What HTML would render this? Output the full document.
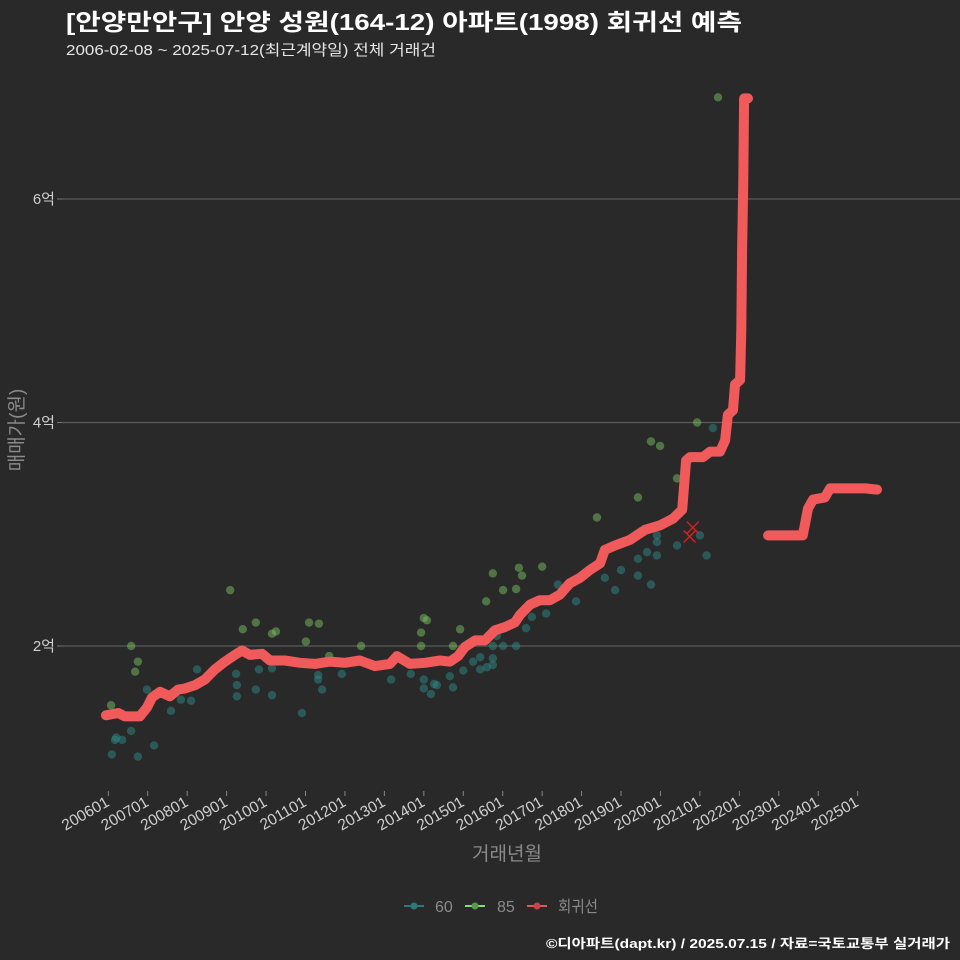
<!DOCTYPE html>
<html><head><meta charset="utf-8"><style>
html,body{margin:0;padding:0;background:#2a292a;}
svg{display:block;font-family:"Liberation Sans","Noto Sans CJK KR",sans-serif;}
</style></head><body>
<svg id="chart" width="960" height="960" viewBox="0 0 960 960">
<rect width="960" height="960" fill="#2a292a"/>
<text x="66" y="30" fill="#ffffff" font-size="23" font-weight="bold" textLength="676" lengthAdjust="spacingAndGlyphs">[안양만안구] 안양 성원(164-12) 아파트(1998) 회귀선 예측</text>
<text x="66" y="55" fill="#e6e6e6" font-size="15" textLength="370" lengthAdjust="spacingAndGlyphs">2006-02-08 ~ 2025-07-12(최근계약일) 전체 거래건</text>
<g id="grid"></g>
<g id="xaxis"></g>
<g id="pts"></g>
<g id="reg"></g>
<text x="507" y="860" fill="#8a8a8a" font-size="19" text-anchor="middle">거래년월</text>
<text transform="translate(23,430) rotate(-90)" fill="#8a8a8a" font-size="19" text-anchor="middle">매매가(원)</text>
<g>
 <g><line x1="404" y1="906" x2="424" y2="906" stroke="#2a7a78" stroke-width="2"/><circle cx="414" cy="906" r="3.5" fill="#2a7a78"/><text x="435" y="912" fill="#8a8a8a" font-size="16">60</text></g>
 <g><line x1="465" y1="906" x2="485" y2="906" stroke="#7fe06a" stroke-width="2"/><circle cx="475" cy="906" r="3.5" fill="#5a9a4a"/><text x="497" y="912" fill="#8a8a8a" font-size="16">85</text></g>
 <g><line x1="527" y1="906" x2="547" y2="906" stroke="#e05858" stroke-width="2"/><circle cx="537" cy="906" r="3.5" fill="#c04848"/><text x="558" y="912" fill="#8a8a8a" font-size="16" textLength="40" lengthAdjust="spacingAndGlyphs">회귀선</text></g>
</g>
<text x="950" y="948" fill="#ffffff" font-size="13" font-weight="bold" text-anchor="end" textLength="404" lengthAdjust="spacingAndGlyphs">©디아파트(dapt.kr) / 2025.07.15 / 자료=국토교통부 실거래가</text>
</svg>
<script>
const yTicks=[2,4,6];
const yTickLabels=["2억","4억","6억"];
const xTickYears=[2006,2007,2008,2009,2010,2011,2012,2013,2014,2015,2016,2017,2018,2019,2020,2021,2022,2023,2024,2025];
const xTickLabels=["200601","200701","200801","200901","201001","201101","201201","201301","201401","201501","201601","201701","201801","201901","202001","202101","202201","202301","202401","202501"];
const regT1=[2005.94,2006.25,2006.42,2006.8,2006.98,2007.11,2007.31,2007.56,2007.77,2007.94,2008.2,2008.45,2008.7,2008.96,2009.21,2009.39,2009.59,2009.9,2010.1,2010.48,2010.86,2011.24,2011.62,2012.0,2012.38,2012.76,2013.14,2013.32,2013.65,2014.03,2014.41,2014.66,2014.87,2015.04,2015.3,2015.55,2015.8,2016.06,2016.31,2016.44,2016.69,2016.94,2017.2,2017.45,2017.7,2017.96,2018.21,2018.47,2018.59,2018.85,2019.23,2019.61,2019.99,2020.32,2020.55,2020.65,2020.75,2021.08,2021.26,2021.51,2021.64,2021.71,2021.84,2021.89,2022.02,2022.05,2022.07,2022.1,2022.12,2022.22];
const regV1=[1.38,1.40,1.37,1.37,1.45,1.54,1.59,1.55,1.61,1.62,1.65,1.70,1.79,1.86,1.92,1.96,1.92,1.93,1.87,1.87,1.85,1.84,1.86,1.85,1.87,1.82,1.84,1.91,1.84,1.85,1.87,1.86,1.91,1.99,2.05,2.05,2.14,2.17,2.21,2.28,2.37,2.41,2.41,2.46,2.56,2.61,2.68,2.74,2.86,2.90,2.95,3.04,3.08,3.14,3.22,3.66,3.69,3.69,3.74,3.74,3.84,4.07,4.11,4.34,4.38,4.83,5.54,6.17,6.90,6.90];
const regT2=[2022.73,2023.61,2023.74,2023.87,2024.17,2024.3,2025.19,2025.49];
const regV2=[2.99,2.99,3.23,3.31,3.33,3.41,3.41,3.40];
const g85T=[2006.07,2006.58,2006.75,2006.68,2009.09,2009.41,2009.74,2010.15,2010.25,2011.09,2011.34,2011.01,2011.6,2012.41,2013.93,2013.93,2014.0,2014.08,2014.92,2014.74,2015.58,2015.75,2016.01,2016.34,2016.41,2016.49,2017.0,2018.39,2019.43,2019.76,2019.99,2020.42,2020.93,2021.46];
const g85V=[1.47,2.00,1.86,1.77,2.50,2.15,2.21,2.11,2.13,2.21,2.20,2.04,1.91,2.00,2.12,2.00,2.25,2.23,2.15,2.00,2.40,2.65,2.50,2.51,2.70,2.63,2.71,3.15,3.33,3.83,3.79,3.50,4.00,6.91];
const g60T=[2006.09,2006.17,2006.2,2006.35,2006.58,2006.75,2007.16,2006.98,2007.59,2007.84,2008.1,2008.25,2009.26,2009.26,2009.24,2009.74,2009.82,2010.15,2010.15,2010.91,2011.32,2011.32,2011.42,2011.92,2013.17,2013.67,2014.0,2014.0,2014.18,2014.26,2014.33,2014.66,2014.74,2015.0,2015.25,2015.43,2015.43,2015.6,2015.75,2015.75,2015.85,2015.75,2016.01,2016.34,2016.59,2016.74,2017.1,2017.4,2017.86,2018.59,2018.85,2019.0,2019.43,2019.43,2019.76,2019.66,2019.91,2019.91,2019.91,2020.42,2021.0,2021.17,2021.33];
const g60V=[1.03,1.16,1.18,1.16,1.24,1.01,1.11,1.61,1.42,1.52,1.51,1.79,1.55,1.65,1.75,1.61,1.79,1.56,1.80,1.40,1.74,1.70,1.61,1.75,1.70,1.75,1.70,1.62,1.57,1.66,1.65,1.73,1.63,1.78,1.86,1.90,1.79,1.81,1.89,1.83,2.09,2.00,2.00,2.00,2.16,2.26,2.29,2.55,2.40,2.61,2.50,2.68,2.63,2.78,2.55,2.84,2.81,2.93,2.99,2.90,2.99,2.81,3.95];
const cancelT=[2020.82,2020.74];
const cancelV=[3.06,2.98];

const NS="http://www.w3.org/2000/svg";
function X(t){return 108.3+(t-2006)*39.44;}
function Y(v){return 646-(v-2)*111.75;}
function mk(tag,attrs,parent){const e=document.createElementNS(NS,tag);for(const k in attrs)e.setAttribute(k,attrs[k]);parent.appendChild(e);return e;}
const grid=document.getElementById('grid');
yTicks.forEach((v,i)=>{
  const l=mk('line',{x1:62,x2:960,y1:Y(v),y2:Y(v),stroke:'#5a5a5a','stroke-width':1.2},grid);
  
  
  const tk=mk('line',{x1:57,x2:62,y1:Y(v),y2:Y(v),stroke:'#777','stroke-width':1},grid);
  
  
  const t=mk('text',{x:55,y:Y(v)+5,fill:'#cfcfcf','font-size':15,'text-anchor':'end'},grid);
  t.textContent=yTickLabels[i];
  
  
});
const xa=document.getElementById('xaxis');
xTickYears.forEach((yr,i)=>{
  const x=X(yr);
  const tk=mk('line',{x1:x,x2:x,y1:791,y2:796,stroke:'#888','stroke-width':1},xa);
  
  
  const t=mk('text',{transform:`translate(${x+2},${805}) rotate(-30)`,fill:'#cfcfcf','font-size':15.5,'text-anchor':'end'},xa);
  t.textContent=xTickLabels[i];
  
  
});
const pts=document.getElementById('pts');
g60T.forEach((t,i)=>{
  const c=mk('circle',{cx:X(t),cy:Y(g60V[i]),r:4.2,fill:'#2a8a86','fill-opacity':0.5},pts);
  
  
});
g85T.forEach((t,i)=>{
  const c=mk('circle',{cx:X(t),cy:Y(g85V[i]),r:4.2,fill:'#78c060','fill-opacity':0.5},pts);
  
  
});
cancelT.forEach((t,i)=>{
  const x=X(t),y=Y(cancelV[i]);
  const p=mk('path',{d:`M${x-6} ${y-6}L${x+6} ${y+6}M${x-6} ${y+6}L${x+6} ${y-6}`,stroke:'#e02020','stroke-width':1.3,fill:'none'},pts);
  
  
});
const reg=document.getElementById('reg');
[[regT1,regV1],[regT2,regV2]].forEach(([T,V])=>{
  const d=T.map((t,i)=>(i?'L':'M')+X(t).toFixed(1)+' '+Y(V[i]).toFixed(1)).join('');
  const p=mk('path',{d:d,stroke:'#f05a5a','stroke-width':10,fill:'none','stroke-linecap':'round','stroke-linejoin':'round'},reg);
  
  
});
</script>
</body></html>
